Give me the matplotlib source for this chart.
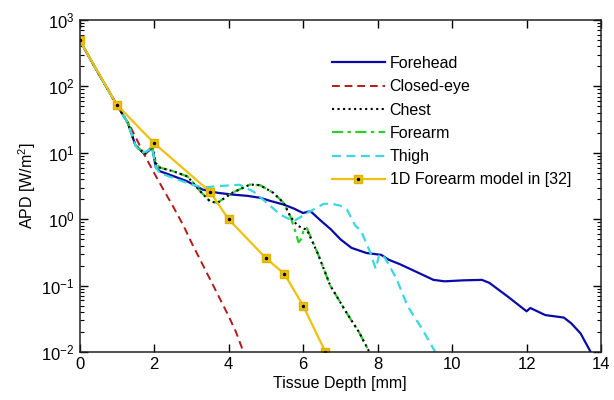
import matplotlib
matplotlib.use("Agg")
from matplotlib import pyplot as plt
from matplotlib.ticker import LogLocator, NullFormatter

plt.rcParams['font.family'] = ['Liberation Sans', 'DejaVu Sans']
plt.rcParams['mathtext.fontset'] = 'custom'
plt.rcParams['mathtext.rm'] = 'Liberation Sans'

# --- data ---
forehead_x = [0, 0.5, 1.0, 1.3, 1.5, 1.75, 1.95, 2.05, 2.15, 2.5, 2.9, 3.3, 3.7, 4.1, 4.5,
              4.85, 5.1, 5.48, 5.75, 6.0, 6.2, 6.45, 6.75, 7.0, 7.3, 7.7, 8.1, 8.3, 8.6,
              9.0, 9.5, 9.8, 10.3, 10.8, 11.0, 11.5, 12.0, 12.1, 12.5, 13.0, 13.2, 13.45, 13.72]
forehead_y = [500, 160, 53, 28, 13, 9.5, 12, 6, 5.3, 4.5, 3.7, 2.8, 2.5, 2.35, 2.25,
              2.1, 1.9, 1.66, 1.45, 1.24, 1.32, 0.98, 0.7, 0.5, 0.37, 0.31, 0.29, 0.245, 0.21,
              0.165, 0.122, 0.116, 0.12, 0.122, 0.11, 0.068, 0.041, 0.046, 0.036, 0.033, 0.027, 0.019, 0.01]

closed_x = [0, 0.5, 1.0, 1.36, 1.76, 2.0, 2.25, 2.5, 2.8, 3.0, 3.5, 4.0, 4.2, 4.4]
closed_y = [500, 160, 53, 25, 8.9, 5.0, 2.8, 1.6, 0.78, 0.45, 0.126, 0.035, 0.02, 0.01]

forearm_x = [0, 0.5, 1.0, 1.3, 1.5, 1.75, 1.95, 2.05, 2.15, 2.5, 2.9, 3.25, 3.5, 3.7, 4.1,
             4.58, 4.85, 5.2, 5.48, 5.66, 5.79, 5.88, 5.95, 6.02, 6.1, 6.4, 6.73, 7.18, 7.5, 7.78]
forearm_y = [500, 160, 53, 28, 13, 9.5, 12.5, 7, 6.0, 5.3, 4.4, 2.6, 1.86, 1.76, 2.5,
             3.33, 3.25, 2.5, 1.76, 1.1, 0.66, 0.45, 0.5, 0.7, 0.74, 0.3, 0.1, 0.038, 0.02, 0.01]

chest_x = [0, 0.5, 1.0, 1.3, 1.5, 1.75, 1.95, 2.05, 2.15, 2.5, 2.9, 3.25, 3.5, 3.7, 4.1,
           4.58, 4.85, 5.2, 5.48, 5.66, 5.85, 6.02, 6.1, 6.4, 6.73, 7.18, 7.5, 7.78]
chest_y = [500, 160, 53, 28, 13, 9.5, 12.5, 7, 6.0, 5.3, 4.4, 2.6, 1.86, 1.76, 2.5,
           3.33, 3.25, 2.5, 1.76, 1.1, 0.8, 0.72, 0.7, 0.3, 0.1, 0.038, 0.02, 0.01]

thigh_x = [0, 0.5, 1.0, 1.3, 1.5, 1.65, 1.8, 1.95, 2.05, 2.15, 2.5, 2.9, 3.3, 3.69, 4.3,
           4.67, 5.03, 5.39, 5.75, 6.11, 6.55, 6.75, 7.0, 7.18, 7.4, 7.55, 7.8, 7.95, 8.05,
           8.2, 8.5, 8.8, 9.2, 9.55]
thigh_y = [500, 160, 53, 28, 13, 10, 10.5, 12, 6, 5.0, 4.2, 3.5, 3.0, 3.14, 3.3,
           2.6, 1.76, 1.17, 0.93, 1.24, 1.7, 1.72, 1.6, 1.4, 0.8, 0.68, 0.32, 0.18, 0.3,
           0.26, 0.13, 0.05, 0.022, 0.01]

model_x = [0, 1, 2, 3.5, 4, 5, 5.5, 6, 6.6]
model_y = [500, 53, 14, 2.6, 1.0, 0.26, 0.15, 0.05, 0.01]

fig = plt.figure(figsize=(6.14, 4.0), dpi=100)
ax = fig.add_axes([0.1295, 0.12, 0.8495, 0.83])

ax.plot(forehead_x, forehead_y, '-', color='#0a0aa8', lw=1.6, label='Forehead')
ax.plot(closed_x, closed_y, '--', color='#b81818', lw=1.4, dashes=(4, 2.5), label='Closed-eye')
ax.plot(forearm_x, forearm_y, '-.', color='#2ad02a', lw=1.6, dashes=(5, 2, 1.5, 2))
ax.plot(chest_x, chest_y, ':', color='black', lw=1.5, label='Chest')
fa_handle, = ax.plot([], [], '-.', color='#2ad02a', lw=1.6, dashes=(5, 2, 1.5, 2), label='Forearm')
ax.plot(thigh_x, thigh_y, '--', color='#3ad8e0', lw=1.6, dashes=(4, 2.5), label='Thigh')
m1, = ax.plot(model_x, model_y, '-', color='#f0c010', lw=1.6, marker='s', ms=6,
              mfc='#f0c010', mec='#e0b000')
m2, = ax.plot(model_x, model_y, ' ', marker='.', ms=3, color='black')

ax.set_yscale('log')
ax.set_xlim(0, 14)
ax.set_ylim(1e-2, 1e3)
ax.set_xticks(range(0, 15, 2))
ax.yaxis.set_major_locator(LogLocator(base=10, numticks=10))
ax.yaxis.set_minor_locator(LogLocator(base=10, subs=range(2, 10), numticks=20))
ax.yaxis.set_minor_formatter(NullFormatter())
ax.tick_params(which='both', direction='in', top=True, right=True, labelsize=12)
ax.tick_params(which='major', length=6, width=1)
ax.tick_params(which='minor', length=3, width=0.8)
for s in ax.spines.values():
    s.set_linewidth(1.1)
    s.set_color('#222222')

ax.set_xlabel('Tissue Depth [mm]', fontsize=11.5, labelpad=3)
ax.set_ylabel('APD [W/m$^2$]', fontsize=11.5, labelpad=2)

handles, labels = ax.get_legend_handles_labels()
order = ['Forehead', 'Closed-eye', 'Chest', 'Forearm', 'Thigh']
hmap = dict(zip(labels, handles))
hs = [hmap[k] for k in order] + [(m1, m2)]
ls = order + ['1D Forearm model in [32]']
ax.legend(hs, ls, loc='upper left', bbox_to_anchor=(0.472, 0.911), frameon=False,
          fontsize=11.5, handlelength=3.3, handletextpad=0.3, labelspacing=0.52,
          borderaxespad=0)

fig.savefig('out.png', dpi=100)
